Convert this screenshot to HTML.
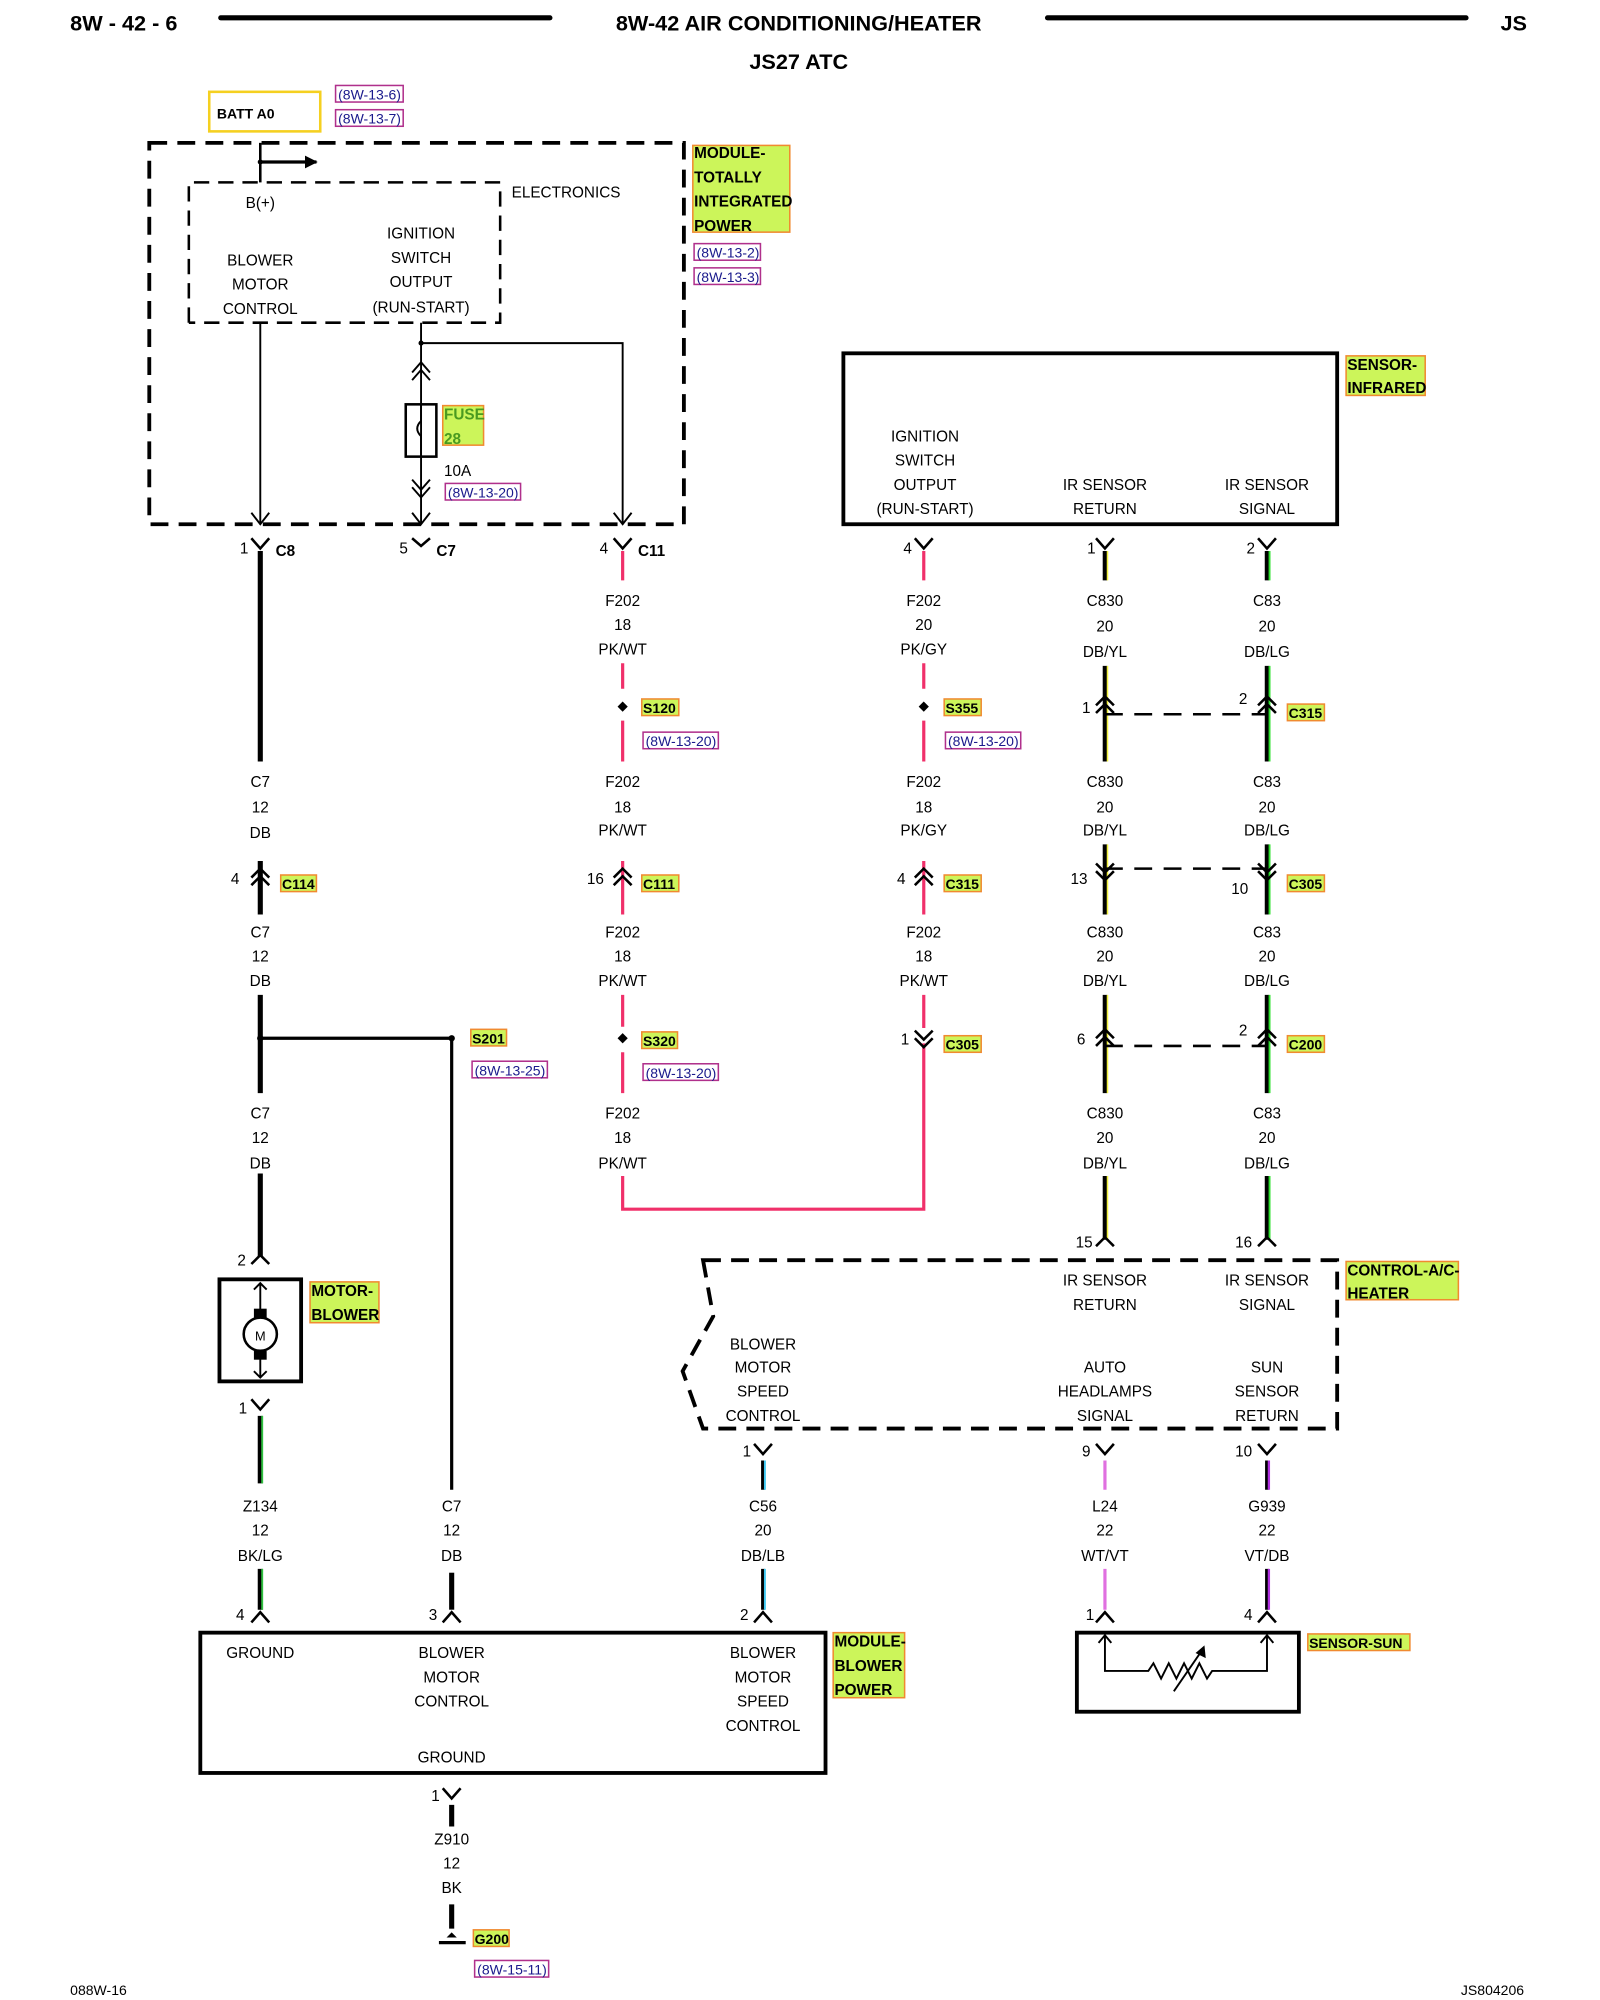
<!DOCTYPE html>
<html><head><meta charset="utf-8"><style>
html,body{margin:0;padding:0;background:#fff;}
svg{display:block;}
text{font-family:"Liberation Sans",sans-serif;font-size:12px;fill:#000;}
.t{text-anchor:middle;}
.b{font-weight:bold;}
.hd{font-size:17px;font-weight:bold;}
.lb{font-weight:bold;font-size:12px;}
.rf{fill:#1a1a8c;font-size:11px;}
</style></head><body>
<svg width="1600" height="2000" viewBox="0 0 1254 1568" preserveAspectRatio="none" xmlns="http://www.w3.org/2000/svg">
<defs>
<marker id="ah" markerWidth="10" markerHeight="10" refX="9" refY="5" orient="auto" markerUnits="userSpaceOnUse"><path d="M0,0 L10,5 L0,10z" fill="#000"/></marker>
</defs>
<!-- header -->
<text x="55" y="24" class="hd">8W - 42 - 6</text>
<line x1="173" y1="14" x2="431" y2="14" stroke="#000" stroke-width="4" stroke-linecap="round"/>
<text x="626" y="24" class="hd t">8W-42 AIR CONDITIONING/HEATER</text>
<line x1="821" y1="14" x2="1149" y2="14" stroke="#000" stroke-width="4" stroke-linecap="round"/>
<text x="1176" y="24" class="hd">JS</text>
<text x="626" y="54" class="hd t">JS27 ATC</text>

<!-- BATT A0 -->
<rect x="164" y="72" width="87" height="31" fill="none" stroke="#f5d020" stroke-width="2"/>
<text x="170" y="93" class="b" style="font-size:11px">BATT A0</text>
<g fill="none" stroke="#b0308c" stroke-width="1.2">
<rect x="263" y="67" width="53" height="13"/><rect x="263" y="86" width="53" height="13"/>
<rect x="544" y="191" width="52" height="13"/><rect x="544" y="210" width="52" height="13"/>
<rect x="349" y="379" width="59" height="13"/>
<rect x="504" y="574" width="59" height="13"/><rect x="741" y="574" width="59" height="13"/>
<rect x="370" y="832" width="59" height="13"/><rect x="504" y="834" width="59" height="13"/>
<rect x="372" y="1537" width="58" height="13"/>
</g>
<text x="265" y="78" class="rf">(8W-13-6)</text>
<text x="265" y="97" class="rf">(8W-13-7)</text>
<text x="546" y="202" class="rf">(8W-13-2)</text>
<text x="546" y="221" class="rf">(8W-13-3)</text>
<text x="351" y="390" class="rf">(8W-13-20)</text>
<text x="506" y="585" class="rf">(8W-13-20)</text>
<text x="743" y="585" class="rf">(8W-13-20)</text>
<text x="372" y="843" class="rf">(8W-13-25)</text>
<text x="506" y="845" class="rf">(8W-13-20)</text>
<text x="374" y="1548" class="rf">(8W-15-11)</text>

<!-- highlight labels -->
<g fill="#ccf55a" stroke="#f08a30" stroke-width="1.2">
<rect x="543" y="114" width="76" height="68"/>
<rect x="347" y="318" width="32" height="31"/>
<rect x="1055" y="279" width="62" height="31"/>
<rect x="1055" y="989" width="88" height="30"/>
<rect x="243" y="1005" width="54" height="32"/>
<rect x="653" y="1280" width="56" height="51"/>
<rect x="220" y="686" width="28" height="13"/>
<rect x="503" y="548" width="29" height="13"/>
<rect x="740" y="548" width="29" height="13"/>
<rect x="503" y="686" width="29" height="13"/>
<rect x="740" y="686" width="29" height="13"/>
<rect x="369" y="807" width="28" height="13"/>
<rect x="503" y="809" width="28" height="13"/>
<rect x="740" y="812" width="29" height="13"/>
<rect x="1009" y="552" width="29" height="13"/>
<rect x="1009" y="686" width="29" height="13"/>
<rect x="1009" y="812" width="29" height="13"/>
<rect x="1025" y="1281" width="80" height="13"/>
<rect x="371" y="1513" width="28" height="13"/>
</g>
<g class="lb">
<text x="544" y="124" class="lb">MODULE-</text><text x="544" y="143" class="lb">TOTALLY</text><text x="544" y="162" class="lb">INTEGRATED</text><text x="544" y="181" class="lb">POWER</text>
<text x="348" y="329" style="fill:#4a9a20">FUSE</text><text x="348" y="348" style="fill:#4a9a20">28</text>
<text x="1056" y="290" class="lb">SENSOR-</text><text x="1056" y="308" class="lb">INFRARED</text>
<text x="1056" y="1000" class="lb">CONTROL-A/C-</text><text x="1056" y="1018" class="lb">HEATER</text>
<text x="244" y="1016" class="lb">MOTOR-</text><text x="244" y="1035" class="lb">BLOWER</text>
<text x="654" y="1291" class="lb">MODULE-</text><text x="654" y="1310" class="lb">BLOWER</text><text x="654" y="1329" class="lb">POWER</text>
<text x="221" y="697" class="lb" style="font-size:11px">C114</text>
<text x="504" y="559" class="lb" style="font-size:11px">S120</text>
<text x="741" y="559" class="lb" style="font-size:11px">S355</text>
<text x="504" y="697" class="lb" style="font-size:11px">C111</text>
<text x="741" y="697" class="lb" style="font-size:11px">C315</text>
<text x="370" y="818" class="lb" style="font-size:11px">S201</text>
<text x="504" y="820" class="lb" style="font-size:11px">S320</text>
<text x="741" y="823" class="lb" style="font-size:11px">C305</text>
<text x="1010" y="563" class="lb" style="font-size:11px">C315</text>
<text x="1010" y="697" class="lb" style="font-size:11px">C305</text>
<text x="1010" y="823" class="lb" style="font-size:11px">C200</text>
<text x="1026" y="1292" class="lb" style="font-size:11px">SENSOR-SUN</text>
<text x="372" y="1524" class="lb" style="font-size:11px">G200</text>
</g>

<!-- TIPM box -->
<rect x="117" y="112" width="419" height="299" fill="none" stroke="#000" stroke-width="3" stroke-dasharray="14 8"/>
<path d="M148,253 V143 H392 V253 H148" fill="none" stroke="#000" stroke-width="2" stroke-dasharray="12 7"/>
<text x="401" y="155">ELECTRONICS</text>
<line x1="204" y1="112" x2="204" y2="143" stroke="#000" stroke-width="2"/>
<line x1="204" y1="127" x2="248" y2="127" stroke="#000" stroke-width="2.5" marker-end="url(#ah)"/>
<circle cx="204" cy="127" r="2"/>
<text x="204" y="163" class="t">B(+)</text>
<text x="204" y="208" class="t">BLOWER</text><text x="204" y="227" class="t">MOTOR</text><text x="204" y="246" class="t">CONTROL</text>
<text x="330" y="187" class="t">IGNITION</text><text x="330" y="206" class="t">SWITCH</text><text x="330" y="225" class="t">OUTPUT</text><text x="330" y="245" class="t">(RUN-START)</text>
<g stroke="#000" stroke-width="1.5" fill="none">
<line x1="204" y1="253" x2="204" y2="411"/>
<path d="M197,402 L204,411 L211,402"/>
<line x1="330" y1="253" x2="330" y2="411"/>
<path d="M323,402 L330,411 L337,402"/>
<path d="M330,269 H488 V411"/>
<path d="M481,402 L488,411 L495,402"/>
<path d="M323,292 L330,284 L337,292 M323,298 L330,290 L337,298"/>
<rect x="318" y="317" width="24" height="41" stroke-width="2"/>
<path d="M330,317 V330 Q324,336 330,342 V358"/>
<path d="M323,376 L330,384 L337,376 M323,382 L330,390 L337,382"/>
</g>
<circle cx="330" cy="269" r="2"/>
<text x="348" y="373">10A</text>

<!-- Sensor infrared -->
<rect x="661" y="277" width="387" height="134" fill="none" stroke="#000" stroke-width="3"/>
<text x="725" y="346" class="t">IGNITION</text><text x="725" y="365" class="t">SWITCH</text><text x="725" y="384" class="t">OUTPUT</text><text x="725" y="403" class="t">(RUN-START)</text>
<text x="866" y="384" class="t">IR SENSOR</text><text x="866" y="403" class="t">RETURN</text>
<text x="993" y="384" class="t">IR SENSOR</text><text x="993" y="403" class="t">SIGNAL</text>

<!-- wire labels helper: text -->
<g class="t">
<!-- col 204 -->
<text x="204" y="617" class="t">C7</text><text x="204" y="637" class="t">12</text><text x="204" y="657" class="t">DB</text>
<text x="204" y="735" class="t">C7</text><text x="204" y="754" class="t">12</text><text x="204" y="773" class="t">DB</text>
<text x="204" y="877" class="t">C7</text><text x="204" y="896" class="t">12</text><text x="204" y="916" class="t">DB</text>
<text x="204" y="1185" class="t">Z134</text><text x="204" y="1204" class="t">12</text><text x="204" y="1224" class="t">BK/LG</text>
<text x="354" y="1185" class="t">C7</text><text x="354" y="1204" class="t">12</text><text x="354" y="1224" class="t">DB</text>
<text x="598" y="1185" class="t">C56</text><text x="598" y="1204" class="t">20</text><text x="598" y="1224" class="t">DB/LB</text>
<text x="866" y="1185" class="t">L24</text><text x="866" y="1204" class="t">22</text><text x="866" y="1224" class="t">WT/VT</text>
<text x="993" y="1185" class="t">G939</text><text x="993" y="1204" class="t">22</text><text x="993" y="1224" class="t">VT/DB</text>
<text x="354" y="1446" class="t">Z910</text><text x="354" y="1465" class="t">12</text><text x="354" y="1484" class="t">BK</text>
<!-- col 488 -->
<text x="488" y="475" class="t">F202</text><text x="488" y="494" class="t">18</text><text x="488" y="513" class="t">PK/WT</text>
<text x="488" y="617" class="t">F202</text><text x="488" y="637" class="t">18</text><text x="488" y="655" class="t">PK/WT</text>
<text x="488" y="735" class="t">F202</text><text x="488" y="754" class="t">18</text><text x="488" y="773" class="t">PK/WT</text>
<text x="488" y="877" class="t">F202</text><text x="488" y="896" class="t">18</text><text x="488" y="916" class="t">PK/WT</text>
<!-- col 724 -->
<text x="724" y="475" class="t">F202</text><text x="724" y="494" class="t">20</text><text x="724" y="513" class="t">PK/GY</text>
<text x="724" y="617" class="t">F202</text><text x="724" y="637" class="t">18</text><text x="724" y="655" class="t">PK/GY</text>
<text x="724" y="735" class="t">F202</text><text x="724" y="754" class="t">18</text><text x="724" y="773" class="t">PK/WT</text>
<!-- col 866/993 -->
<text x="866" y="475" class="t">C830</text><text x="866" y="495" class="t">20</text><text x="866" y="515" class="t">DB/YL</text>
<text x="993" y="475" class="t">C83</text><text x="993" y="495" class="t">20</text><text x="993" y="515" class="t">DB/LG</text>
<text x="866" y="617" class="t">C830</text><text x="866" y="637" class="t">20</text><text x="866" y="655" class="t">DB/YL</text>
<text x="993" y="617" class="t">C83</text><text x="993" y="637" class="t">20</text><text x="993" y="655" class="t">DB/LG</text>
<text x="866" y="735" class="t">C830</text><text x="866" y="754" class="t">20</text><text x="866" y="773" class="t">DB/YL</text>
<text x="993" y="735" class="t">C83</text><text x="993" y="754" class="t">20</text><text x="993" y="773" class="t">DB/LG</text>
<text x="866" y="877" class="t">C830</text><text x="866" y="896" class="t">20</text><text x="866" y="916" class="t">DB/YL</text>
<text x="993" y="877" class="t">C83</text><text x="993" y="896" class="t">20</text><text x="993" y="916" class="t">DB/LG</text>
</g>

<!-- pin numbers -->
<g style="font-size:11px">
<text x="188" y="434">1</text><text x="313" y="434">5</text><text x="470" y="434">4</text><text x="708" y="434">4</text><text x="852" y="434">1</text><text x="977" y="434">2</text>
<text x="181" y="693">4</text><text x="460" y="693">16</text><text x="703" y="693">4</text>
<text x="848" y="559">1</text><text x="971" y="552">2</text>
<text x="839" y="693">13</text><text x="965" y="701">10</text>
<text x="844" y="819">6</text><text x="971" y="812">2</text><text x="706" y="819">1</text>
<text x="186" y="992">2</text><text x="187" y="1108">1</text>
<text x="843" y="978">15</text><text x="968" y="978">16</text>
<text x="582" y="1142">1</text><text x="848" y="1142">9</text><text x="968" y="1142">10</text>
<text x="185" y="1270">4</text><text x="336" y="1270">3</text><text x="580" y="1270">2</text><text x="851" y="1270">1</text><text x="975" y="1270">4</text>
<text x="338" y="1412">1</text>
</g>
<g class="b" style="font-size:12px"><text x="216" y="436">C8</text><text x="342" y="436">C7</text><text x="500" y="436">C11</text></g>

<!-- wires -->
<g fill="none" stroke-linecap="butt">
<!-- col 204 -->
<path d="M204,432 V597 M204,675 V717 M204,780 V857 M204,920 V985" stroke="#000" stroke-width="4"/>
<path d="M204,1110 V1163 M204,1230 V1262" stroke="#000" stroke-width="4"/>
<path d="M205.5,1110 V1163 M205.5,1230 V1262" stroke="#2fbf3f" stroke-width="1.5"/>
<path d="M204,814 H354 V1168" stroke="#000" stroke-width="2.5"/>
<path d="M354,1233 V1262" stroke="#000" stroke-width="4"/>
<path d="M354,1415 V1432 M354,1493 V1512" stroke="#000" stroke-width="4"/>
<!-- pink -->
<path d="M488,432 V455 M488,520 V540 M488,565 V597 M488,675 V717 M488,780 V805 M488,825 V857 M488,922 V948 H724 V818 M724,432 V455 M724,520 V540 M724,565 V597 M724,675 V717 M724,780 V806" stroke="#f0306a" stroke-width="2.5"/>
<!-- 866 / 993 -->
<path d="M866,432 V455 M866,522 V597 M866,662 V717 M866,780 V857 M866,922 V972" stroke="#000" stroke-width="3.5"/>
<path d="M868,432 V455 M868,522 V597 M868,662 V717 M868,780 V857 M868,922 V972" stroke="#f0f040" stroke-width="1.2"/>
<path d="M993,432 V455 M993,522 V597 M993,662 V717 M993,780 V857 M993,922 V972" stroke="#000" stroke-width="3.5"/>
<path d="M995,432 V455 M995,522 V597 M995,662 V717 M995,780 V857 M995,922 V972" stroke="#30e030" stroke-width="1.5"/>
<path d="M866,560 H993 M866,681 H993 M866,820 H993" stroke="#000" stroke-width="2" stroke-dasharray="14 9"/>
<!-- bottom colored -->
<path d="M598,1145 V1168 M598,1230 V1262" stroke="#000" stroke-width="3"/>
<path d="M599.5,1145 V1168 M599.5,1230 V1262" stroke="#40c8f0" stroke-width="1.5"/>
<path d="M866,1145 V1168 M866,1230 V1262" stroke="#e070e0" stroke-width="2.5"/>
<path d="M993,1145 V1168 M993,1230 V1262" stroke="#000" stroke-width="3"/>
<path d="M994.5,1145 V1168 M994.5,1230 V1262" stroke="#b030e0" stroke-width="1.8"/>
</g>
<!-- dots -->
<circle cx="204" cy="814" r="2.5"/><circle cx="354" cy="814" r="2.5"/>
<path d="M488,550 l4,4 -4,4 -4,-4z M724,550 l4,4 -4,4 -4,-4z M488,810 l4,4 -4,4 -4,-4z"/>

<!-- connector symbols -->
<g fill="none" stroke="#000" stroke-width="2">
<!-- Y (fork up) -->
<path d="M197,422 L204,430 L211,422 M481,422 L488,430 L495,422 M717,422 L724,430 L731,422 M859,422 L866,430 L873,422 M986,422 L993,430 L1000,422"/>
<path d="M323,422 L330,428 L337,422"/>
<path d="M197,1097 L204,1105 L211,1097 M591,1132 L598,1140 L605,1132 M859,1132 L866,1140 L873,1132 M986,1132 L993,1140 L1000,1132 M347,1402 L354,1410 L361,1402"/>
<!-- inverted Y -->
<path d="M197,991 L204,984 L211,991 M859,977 L866,970 L873,977 M986,977 L993,970 L1000,977"/>
<path d="M197,1272 L204,1264 L211,1272 M347,1272 L354,1264 L361,1272 M591,1272 L598,1264 L605,1272 M859,1272 L866,1264 L873,1272 M986,1272 L993,1264 L1000,1272"/>
<!-- double chevron up -->
<path d="M197,688 L204,681 L211,688 M197,694 L204,687 L211,694"/>
<path d="M481,688 L488,681 L495,688 M481,694 L488,687 L495,694"/>
<path d="M717,688 L724,681 L731,688 M717,694 L724,687 L731,694"/>
<path d="M859,553 L866,546 L873,553 M859,559 L866,552 L873,559 M986,553 L993,546 L1000,553 M986,559 L993,552 L1000,559"/>
<path d="M859,814 L866,807 L873,814 M859,820 L866,813 L873,820 M986,814 L993,807 L1000,814 M986,820 L993,813 L1000,820"/>
<!-- chevron down -->
<path d="M859,677 L866,684 L873,677 M859,683 L866,690 L873,683 M986,677 L993,684 L1000,677 M986,683 L993,690 L1000,683"/>
<path d="M717,808 L724,815 L731,808 M717,814 L724,821 L731,814"/>
</g>

<!-- motor -->
<rect x="172" y="1003" width="64" height="80" fill="none" stroke="#000" stroke-width="3"/>
<g stroke="#000" stroke-width="1.5" fill="none">
<path d="M204,1006 V1080 M199,1011 L204,1006 L209,1011 M199,1075 L204,1080 L209,1075"/>
<circle cx="204" cy="1046" r="13" fill="#fff" stroke-width="2"/>
</g>
<rect x="199" y="1026" width="10" height="7"/><rect x="199" y="1059" width="10" height="7"/>
<text x="204" y="1051" class="t" style="font-size:10px">M</text>

<!-- control AC heater -->
<path d="M551,988 H1048 V1120 H551 L535,1075 L559,1032 Z" fill="none" stroke="#000" stroke-width="3" stroke-dasharray="14 8"/>
<text x="866" y="1008" class="t">IR SENSOR</text><text x="866" y="1027" class="t">RETURN</text>
<text x="993" y="1008" class="t">IR SENSOR</text><text x="993" y="1027" class="t">SIGNAL</text>
<text x="598" y="1058" class="t">BLOWER</text><text x="598" y="1076" class="t">MOTOR</text><text x="598" y="1095" class="t">SPEED</text><text x="598" y="1114" class="t">CONTROL</text>
<text x="866" y="1076" class="t">AUTO</text><text x="866" y="1095" class="t">HEADLAMPS</text><text x="866" y="1114" class="t">SIGNAL</text>
<text x="993" y="1076" class="t">SUN</text><text x="993" y="1095" class="t">SENSOR</text><text x="993" y="1114" class="t">RETURN</text>

<!-- blower power module -->
<rect x="157" y="1280" width="490" height="110" fill="none" stroke="#000" stroke-width="3"/>
<text x="204" y="1300" class="t">GROUND</text>
<text x="354" y="1300" class="t">BLOWER</text><text x="354" y="1319" class="t">MOTOR</text><text x="354" y="1338" class="t">CONTROL</text>
<text x="598" y="1300" class="t">BLOWER</text><text x="598" y="1319" class="t">MOTOR</text><text x="598" y="1338" class="t">SPEED</text><text x="598" y="1357" class="t">CONTROL</text>
<text x="354" y="1382" class="t">GROUND</text>
<!-- ground -->
<path d="M344,1523 H365" stroke="#000" stroke-width="2.5"/>
<path d="M350,1519 l4,-4 4,4z"/>

<!-- sun sensor -->
<rect x="844" y="1280" width="174" height="62" fill="none" stroke="#000" stroke-width="3"/>
<g fill="none" stroke="#000" stroke-width="1.5">
<path d="M866,1282 V1310 H900 L904,1304 L910,1316 L916,1304 L922,1316 L928,1304 L934,1316 L940,1304 L946,1316 L950,1310 H993 V1282"/>
<path d="M861,1288 L866,1282 L871,1288 M988,1288 L993,1282 L998,1288"/>
<path d="M920,1326 L942,1294"/>
</g>
<path d="M944,1290 L945,1300 L937,1296z"/>

<text x="55" y="1564" style="font-size:11px">088W-16</text>
<text x="1145" y="1564" style="font-size:11px">JS804206</text>
</svg>
</body></html>
